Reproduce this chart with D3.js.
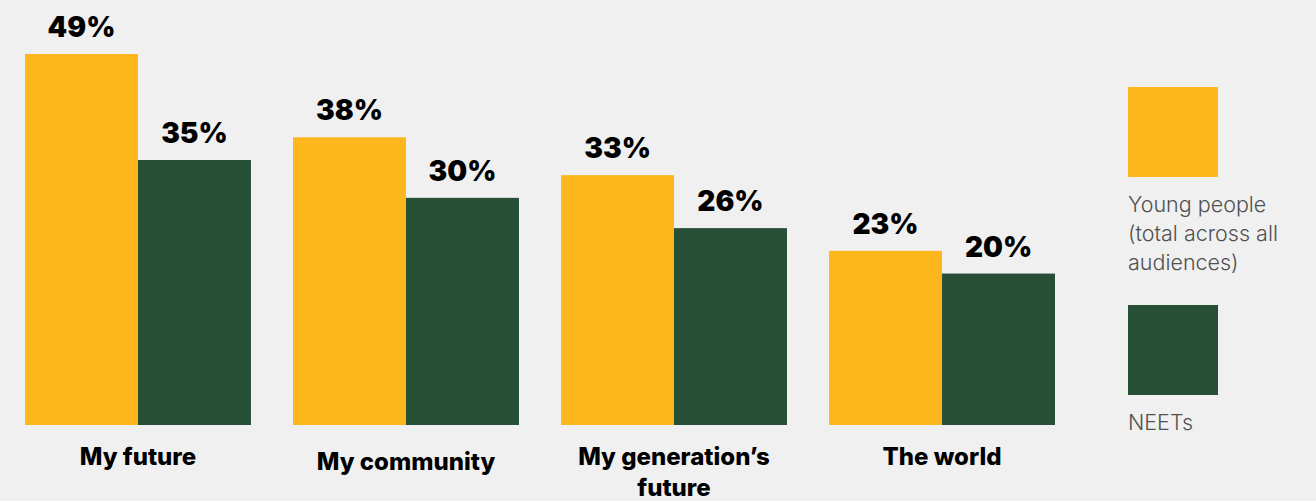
<!DOCTYPE html>
<html>
<head>
<meta charset="utf-8">
<script src="https://cdn.jsdelivr.net/npm/d3@7"></script>
<style>
  html, body { margin: 0; padding: 0; background: #f0f0f0; }
  svg { display: block; }
</style>
</head>
<body>
<svg id="chart" width="1316" height="501"></svg>
<script>
// Share of respondents feeling positive about each area
const categories = [["My future"], ["My community"], ["My generation\u2019s", "future"], ["The world"]];
const seriesNames = ["Young people", "NEETs"];
const youngPeople = [49, 38, 33, 23];
const neets = [35, 30, 26, 20];
const legendLabels = [["Young people", "(total across all", "audiences)"], ["NEETs"]];

const colors = ["#fdb71d", "#264f36"];
const width = 1316, height = 501;
const baseline = 425;

const svg = d3.select("#chart");
svg.append("rect").attr("width", width).attr("height", height).attr("fill", "#f0f0f0");

const x0 = d3.scaleBand()
  .domain(d3.range(categories.length))
  .range([25, 1055])
  .paddingInner(0.157)
  .paddingOuter(0);

const x1 = d3.scaleBand()
  .domain(seriesNames)
  .range([0, x0.bandwidth()])
  .padding(0);

const y = d3.scaleLinear().domain([0, 49]).range([baseline, 54]);

const rows = categories.map((c, i) => ({
  i,
  values: [
    { key: seriesNames[0], v: youngPeople[i], c: colors[0] },
    { key: seriesNames[1], v: neets[i], c: colors[1] }
  ]
}));

const groups = svg.append("g").selectAll("g")
  .data(rows)
  .join("g")
  .attr("transform", d => `translate(${x0(d.i)},0)`);

groups.selectAll("rect")
  .data(d => d.values)
  .join("rect")
  .attr("x", d => x1(d.key))
  .attr("y", d => y(d.v))
  .attr("width", x1.bandwidth())
  .attr("height", d => baseline - y(d.v))
  .attr("fill", d => d.c);

groups.selectAll("text.value")
  .data(d => d.values)
  .join("text")
  .attr("class", "value")
  .attr("x", d => x1(d.key) + x1.bandwidth() / 2)
  .attr("y", d => y(d.v) - 17)
  .attr("text-anchor", "middle")
  .attr("font-family", "Inter, 'Open Sans', sans-serif")
  .attr("font-weight", 900)
  .attr("font-size", 28)
  .attr("fill", "#000")
  .text(d => d.v + "%");

// Category labels under each group
const catLabels = svg.append("g").selectAll("text")
  .data(categories)
  .join("text")
  .attr("x", (d, i) => x0(i) + x0.bandwidth() / 2)
  .attr("y", (d, i) => i === 1 ? 470 : 465)
  .attr("text-anchor", "middle")
  .attr("font-family", "Inter, 'Open Sans', sans-serif")
  .attr("font-weight", 800)
  .attr("font-size", 24)
  .attr("fill", "#000");

catLabels.selectAll("tspan")
  .data(d => d)
  .join("tspan")
  .attr("x", function() { return d3.select(this.parentNode).attr("x"); })
  .attr("dy", (d, j) => j === 0 ? 0 : 31)
  .text(d => d);

// Legend
const legend = svg.append("g");
const legendTops = [87, 305];
seriesNames.forEach((name, k) => {
  legend.append("rect")
    .attr("x", 1128).attr("y", legendTops[k])
    .attr("width", 90).attr("height", 90)
    .attr("fill", colors[k]);
  const t = legend.append("text")
    .attr("x", 1128)
    .attr("y", legendTops[k] + 125)
    .attr("font-family", "Inter, 'Open Sans', sans-serif")
    .attr("font-weight", 300)
    .attr("font-size", 21.5)
    .attr("fill", "#505050");
  legendLabels[k].forEach((line, j) => {
    t.append("tspan").attr("x", 1128).attr("dy", j === 0 ? 0 : 29).text(line);
  });
});
</script>
</body>
</html>
